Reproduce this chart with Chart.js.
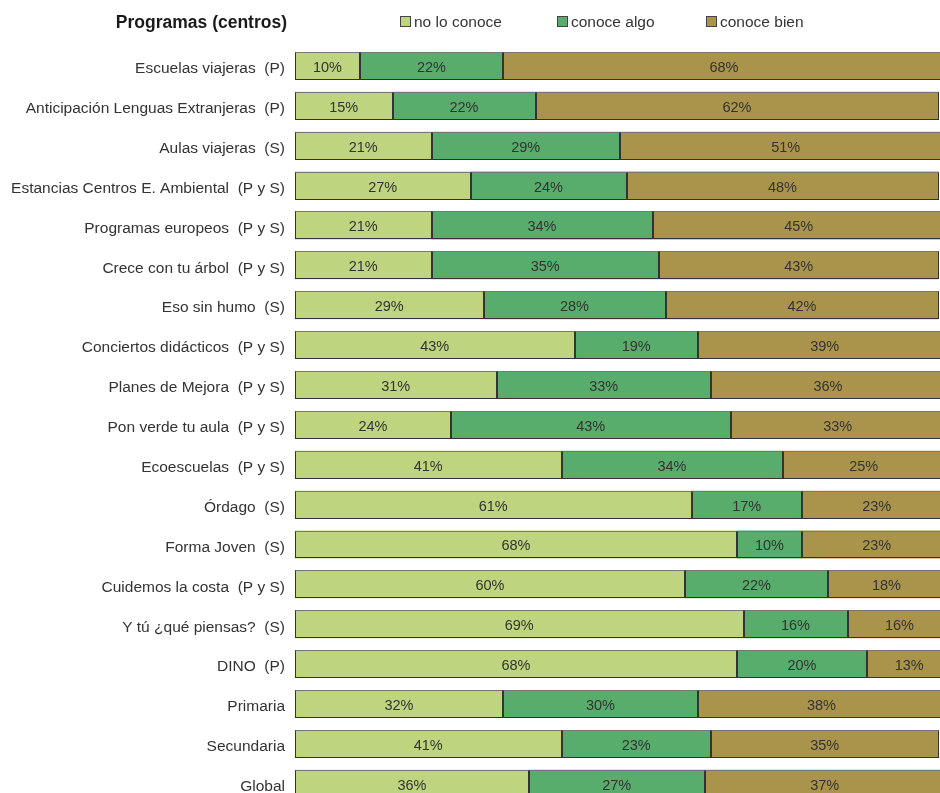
<!DOCTYPE html>
<html>
<head>
<meta charset="utf-8">
<script src="https://cdn.jsdelivr.net/npm/chart.js@4.4.0/dist/chart.umd.min.js"></script>
<style>
html, body { margin:0; padding:0; background:#fff; overflow:hidden; }
#wrap { width:950px; height:823px; }
</style>
</head>
<body>
<div id="wrap"><canvas id="canvas" width="950" height="823"></canvas></div>
<script>
// categorias (programas)
var programas = [
	'Escuelas viajeras  (P)',
	'Anticipación Lenguas Extranjeras  (P)',
	'Aulas viajeras  (S)',
	'Estancias Centros E. Ambiental  (P y S)',
	'Programas europeos  (P y S)',
	'Crece con tu árbol  (P y S)',
	'Eso sin humo  (S)',
	'Conciertos didácticos  (P y S)',
	'Planes de Mejora  (P y S)',
	'Pon verde tu aula  (P y S)',
	'Ecoescuelas  (P y S)',
	'Órdago  (S)',
	'Forma Joven  (S)',
	'Cuidemos la costa  (P y S)',
	'Y tú ¿qué piensas?  (S)',
	'DINO  (P)',
	'Primaria',
	'Secundaria',
	'Global'
];
var noLoConoce  = [10, 15, 21, 27, 21, 21, 29, 43, 31, 24, 41, 61, 68, 60, 69, 68, 32, 41, 36];
var conoceAlgo  = [22, 22, 29, 24, 34, 35, 28, 19, 33, 43, 34, 17, 10, 22, 16, 20, 30, 23, 27];
var conoceBien  = [68, 62, 51, 48, 45, 43, 42, 39, 36, 33, 25, 23, 23, 18, 16, 13, 38, 35, 37];
var seriesNames = ['no lo conoce', 'conoce algo', 'conoce bien'];
var seriesColors = ['#bed47f', '#58ad6c', '#aa944b'];
var tituloTexto = 'Programas (centros)';

var textColor = '#333333';
var fontFamily = '"Liberation Sans", Arial, sans-serif';

function makeDataset(i, values){
	return {
		label: seriesNames[i],
		data: values,
		backgroundColor: seriesColors[i],
		borderWidth: 0,
		inflateAmount: 0,
		categoryPercentage: 0.7,
		barPercentage: 1.0
	};
}

// bordes nitidos y etiquetas de porcentaje dentro de cada tramo
var valueLabels = {
	id: 'valueLabels',
	afterDatasetsDraw: function(chart){
		var ctx = chart.ctx;
		ctx.save();
		ctx.lineWidth = 1;
		chart.data.datasets.forEach(function(ds, i){
			var meta = chart.getDatasetMeta(i);
			meta.data.forEach(function(el){
				var x0 = Math.round(Math.min(el.base, el.x)) + 0.5;
				var x1 = Math.round(Math.max(el.base, el.x)) - 0.5;
				var y0 = Math.round(el.y - el.height / 2) + 0.5;
				var y1 = Math.round(el.y + el.height / 2) - 0.5;
				ctx.strokeStyle = '#333333';
				ctx.strokeRect(x0, y0, x1 - x0, y1 - y0);
				// borde superior algo mas claro
				ctx.strokeStyle = '#777777';
				ctx.beginPath();
				ctx.moveTo(x0, y0);
				ctx.lineTo(x1, y0);
				ctx.stroke();
			});
		});
		ctx.font = '14.5px ' + fontFamily;
		ctx.fillStyle = textColor;
		ctx.textAlign = 'center';
		ctx.textBaseline = 'middle';
		chart.data.datasets.forEach(function(ds, i){
			var meta = chart.getDatasetMeta(i);
			meta.data.forEach(function(el, j){
				var p = el.getCenterPoint();
				ctx.fillText(ds.data[j] + '%', p.x, p.y + 2);
			});
		});
		ctx.restore();
	}
};

// titulo y leyenda arriba
var header = {
	id: 'header',
	afterDraw: function(chart){
		var ctx = chart.ctx;
		ctx.save();
		ctx.fillStyle = '#1a1a1a';
		ctx.font = 'bold 17.5px ' + fontFamily;
		ctx.textAlign = 'right';
		ctx.textBaseline = 'alphabetic';
		ctx.fillText(tituloTexto, 287, 28);

		var xs = [400, 557, 706];
		ctx.font = '15.5px ' + fontFamily;
		ctx.textAlign = 'left';
		for(var i = 0; i < seriesNames.length; i++){
			ctx.fillStyle = seriesColors[i];
			ctx.fillRect(xs[i], 16.5, 10, 10);
			ctx.strokeStyle = '#444444';
			ctx.lineWidth = 1;
			ctx.strokeRect(xs[i] + 0.5, 16.5, 10, 10);
			ctx.fillStyle = textColor;
			ctx.fillText(seriesNames[i], xs[i] + 14, 27);
		}
		ctx.restore();
	}
};

var ctx = document.getElementById('canvas').getContext('2d');
window.myBar = new Chart(ctx, {
	type: 'bar',
	data: {
		labels: programas,
		datasets: [
			makeDataset(0, noLoConoce),
			makeDataset(1, conoceAlgo),
			makeDataset(2, conoceBien)
		]
	},
	options: {
		indexAxis: 'y',
		responsive: false,
		animation: false,
		devicePixelRatio: 1,
		layout: { padding: { top: 46, right: 5, bottom: 1, left: 0 } },
		plugins: {
			legend: { display: false },
			title: { display: false },
			tooltip: { enabled: false }
		},
		scales: {
			x: {
				stacked: true,
				display: false,
				min: 0,
				max: 100
			},
			y: {
				stacked: true,
				grid: { display: false, drawTicks: false },
				border: { display: false },
				ticks: {
					color: textColor,
					padding: 10,
					labelOffset: 3,
					font: { size: 15.5, family: fontFamily }
				},
				afterFit: function(scale){
					scale.width = 295;
				}
			}
		}
	},
	plugins: [valueLabels, header]
});
</script>
</body>
</html>
